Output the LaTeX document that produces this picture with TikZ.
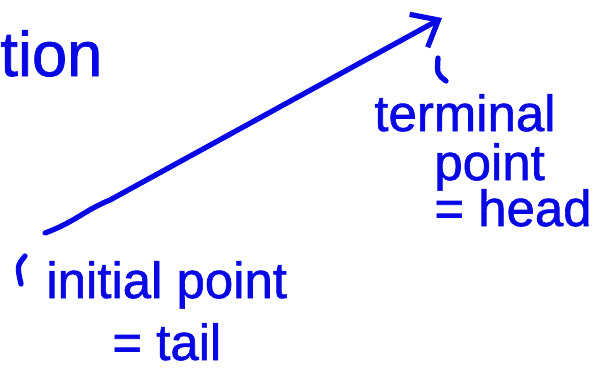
\documentclass[tikz,border=0pt]{standalone}
\usepackage{fontspec}
\usepackage{tikz}
\usetikzlibrary{arrows.meta}
\newfontfamily\hand[FakeStretch=1.0,FakeBold=1.2]{Liberation Sans}
\definecolor{ink}{RGB}{8,8,228}

\begin{document}
\begin{tikzpicture}[x=0.02cm,y=-0.02cm,>={Straight Barb[length=4.5mm,width=7.5mm]},
  word/.style={anchor=base west,inner sep=0pt,text=ink,font=\hand\fontsize{29}{32}\selectfont}]
\useasboundingbox (0,0) rectangle (598,373);
\node[word,font=\hand\fontsize{36}{40}\selectfont] (tion) at (0,76) {tion};
\node[word] (term) at (374,131) {terminal};
\node[word] (tpoint) at (434,180) {point};
\node[word] (thead) at (434,226) {= head};
\node[word] (init) at (46,298) {initial point};
\node[word] (itail) at (112,360) {= tail};
\coordinate (tail) at (45,233);
\coordinate (head) at (442,18);
\draw[->,ink,line width=3pt,line cap=round] (tail) .. controls (75,222) and (85,210) .. (110,200) -- (head);
% small marks
\draw[ink,line width=3pt,line cap=round] (25,256) .. controls (17,266) .. (21,284);
\draw[ink,line width=3pt,line cap=round] (438,58) .. controls (437,74) .. (446,81);
\end{tikzpicture}
\end{document}
